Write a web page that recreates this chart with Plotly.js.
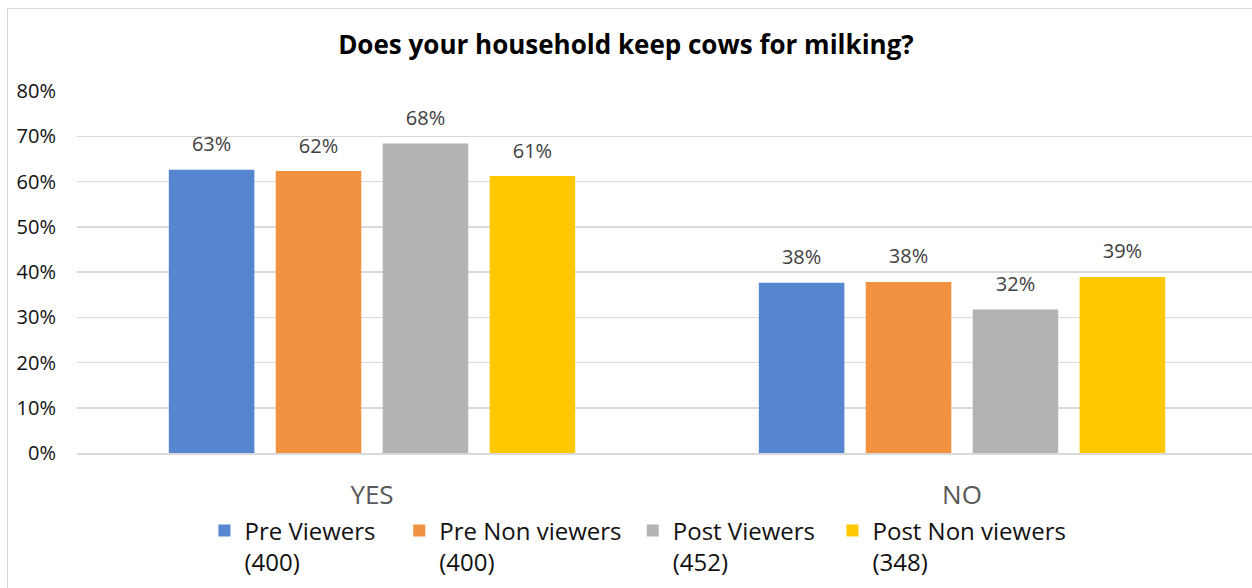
<!DOCTYPE html>
<html>
<head>
<meta charset="utf-8">
<script src="https://cdn.plot.ly/plotly-3.0.1.min.js"></script>
<style>
  html, body { margin: 0; padding: 0; overflow: hidden; background: #fff; }
  #frame { position: absolute; left: 7px; top: 8px; width: 1400px; height: 800px; border: 1px solid #d9d9d9; pointer-events: none; }
  #chart { position: absolute; left: 0; top: 0; }
</style>
</head>
<body>
<div id="chart"></div>
<div id="frame"></div>
<script>
const categories = ["YES", "NO"];
const seriesNames = ["Pre Viewers\u00A0\u00A0\u00A0<br>(400)", "Pre Non viewers\u00A0<br>(400)", "Post Viewers\u00A0\u00A0<br>(452)", "Post Non viewers<br>(348)"];
const preViewers = [0.626, 0.376];
const preNonViewers = [0.623, 0.378];
const postViewers = [0.684, 0.317];
const postNonViewers = [0.612, 0.389];
const colors = ["#5586cf", "#f29241", "#b3b3b3", "#ffc800"];

const allSeries = [preViewers, preNonViewers, postViewers, postNonViewers];
const barTraces = allSeries.map((vals, i) => ({
  type: "bar",
  name: seriesNames[i],
  x: categories,
  y: vals,
  offsetgroup: String(i),
  marker: { color: colors[i] },
  hoverinfo: "skip"
}));
const labelTraces = allSeries.map((vals, i) => ({
  type: "scatter",
  mode: "markers+text",
  x: categories,
  y: vals,
  offsetgroup: String(i),
  marker: { size: 20, opacity: 0, color: colors[i] },
  text: vals.map(v => Math.round(v * 100) + "%"),
  textposition: "top center",
  textfont: { family: "Open Sans", size: 20, color: "#404040" },
  cliponaxis: false,
  showlegend: false,
  hoverinfo: "skip"
}));

const layout = {
  width: 1262,
  height: 588,
  margin: { l: 77, r: 5, t: 91, b: 134 },
  paper_bgcolor: "#ffffff",
  plot_bgcolor: "#ffffff",
  font: { family: "Open Sans", color: "#1a1a1a" },
  title: {
    text: "<b>Does your household keep cows for milking?</b>",
    font: { family: "Open Sans", size: 26, color: "#000000" },
    x: 0.496, xanchor: "center", xref: "container",
    y: 0.923, yref: "container", yanchor: "middle"
  },
  barmode: "group",
  scattermode: "group",
  bargap: 0.275,
  scattergap: 0.275,
  bargroupgap: 0.2,
  xaxis: {
    type: "category",
    tickfont: { family: "Open Sans", size: 26, color: "#595959" },
    ticklabelstandoff: 18,
    showgrid: false,
    showline: true,
    linecolor: "#d9d9d9",
    linewidth: 1.5,
    zeroline: false
  },
  yaxis: {
    range: [0, 0.8],
    dtick: 0.1,
    tickformat: ".0%",
    tickfont: { family: "Open Sans", size: 20, color: "#111111" },
    ticklabelstandoff: 20,
    showgrid: true,
    gridcolor: "#d9d9d9",
    gridwidth: 1.5,
    zeroline: false,
    showline: false
  },
  showlegend: true,
  legend: {
    orientation: "h",
    x: 0.108, xanchor: "left",
    y: -0.15, yanchor: "top",
    valign: "top",
    traceorder: "normal",
    font: { family: "Open Sans", size: 24, color: "#111111" }
  }
};

Plotly.newPlot("chart", barTraces.concat(labelTraces), layout, { displayModeBar: false, staticPlot: true });
</script>
</body>
</html>
